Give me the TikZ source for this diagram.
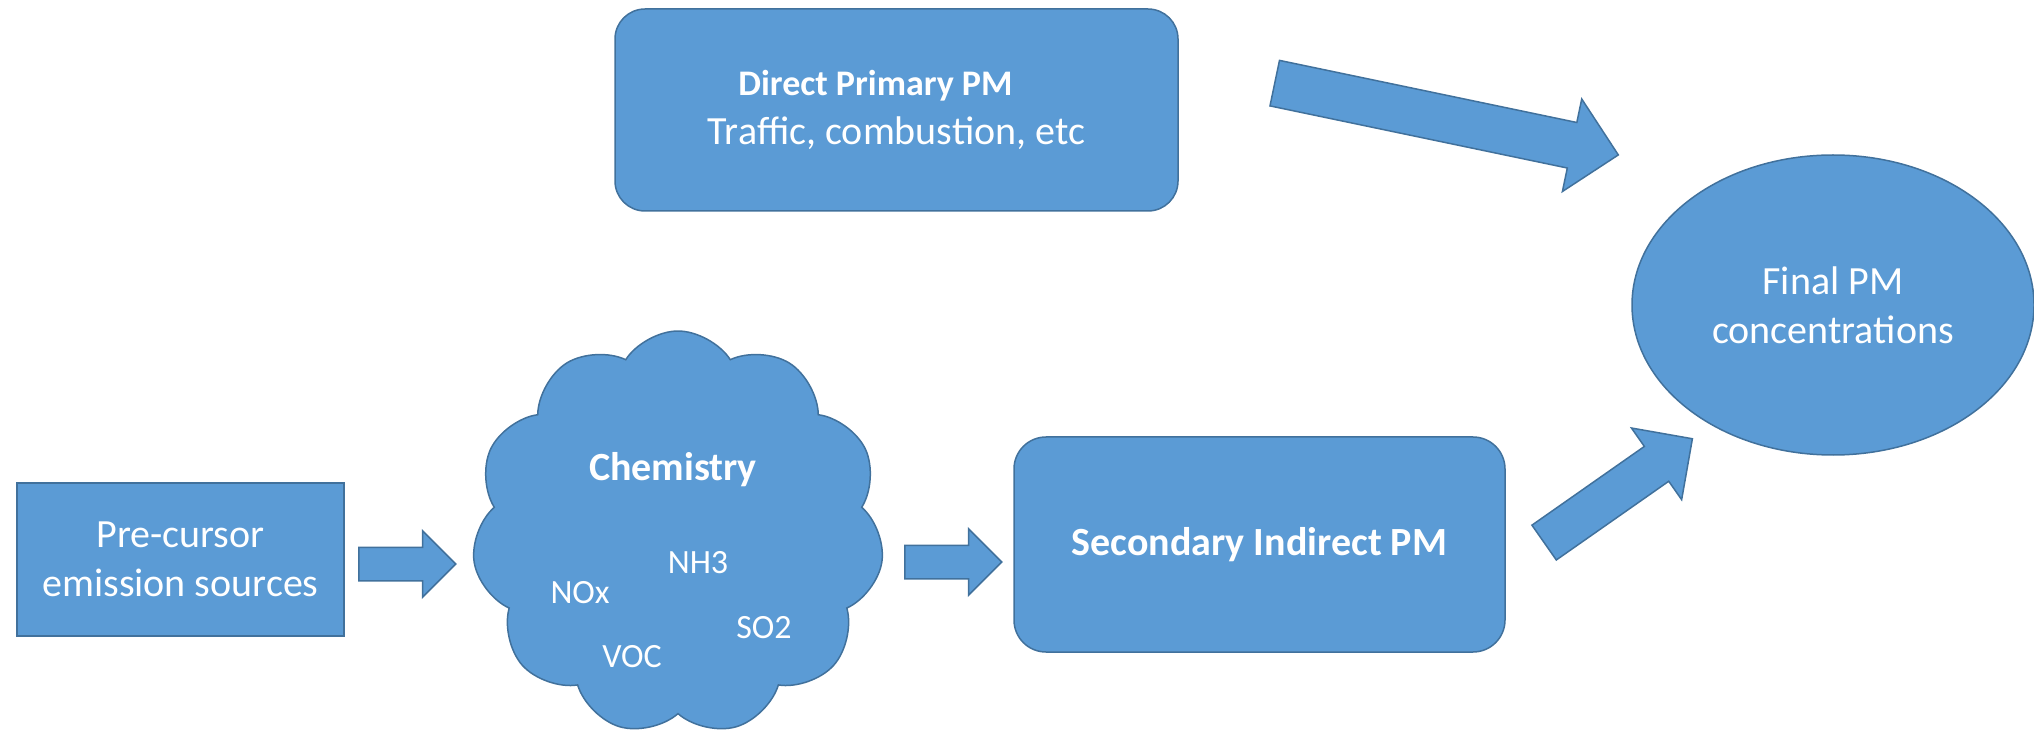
\documentclass[tikz,border=0pt]{standalone}
\usepackage{fontspec}
\setmainfont{Carlito}
\usetikzlibrary{shapes.geometric,shapes.symbols,shapes.arrows}
\definecolor{pmblue}{HTML}{5B9BD5}
\definecolor{pmedge}{HTML}{41719C}
\tikzset{
  pm/.style={draw=pmedge, fill=pmblue, line width=0.75pt, text=white, align=center, inner sep=0pt},
  pmfont/.style={font=\fontsize{20}{24.4}\selectfont},
  gas/.style={text=white, font=\fontsize{17}{20}\selectfont},
  fatarrow/.style={single arrow, draw=pmedge, fill=pmblue, line width=0.75pt, inner xsep=0pt, single arrow head indent=0pt, anchor=tail},
}
\begin{document}
\begin{tikzpicture}[x=0.5pt, y=-0.5pt]
 \useasboundingbox (0,0) rectangle (2034,737);
 % precursors, chemistry and secondary PM along the bottom
 \node[pm, pmfont, minimum width=163.5pt, minimum height=76.5pt] (src) at (180.5,559.5) {Pre-cursor\\emission sources};
 \node[pm, cloud, cloud puffs=11, cloud puff arc=115, aspect=1, minimum width=206pt, minimum height=202pt] (chem) at (678,533) {};
 \node[gas, font=\fontsize{20}{24.4}\selectfont\bfseries] (chemlbl) at (673,470) {Chemistry};
 \node[gas] (nh3) at (698,563) {NH3};
 \node[gas] (nox) at (580,593) {NOx};
 \node[gas] (so2) at (764,628) {SO2};
 \node[gas] (voc) at (632,657) {VOC};
 \node[pm, font=\fontsize{20}{24.4}\selectfont\bfseries, rounded corners=16pt, minimum width=245.5pt, minimum height=107.5pt] (sec) at (1259.5,544.5) {Secondary Indirect PM};
 % direct emissions and the final result
 \node[pm, pmfont, rounded corners=15pt, minimum width=281.5pt, minimum height=101pt] (prim) at (896.5,110) {{\fontsize{18}{24.4}\selectfont\bfseries Direct Primary PM\hspace*{21pt}}\\Traffic, combustion, etc};
 \node[pm, pmfont, ellipse, minimum width=201pt, minimum height=150pt] (final) at (1833,305) {Final PM\\concentrations};
 % block arrows, placed by their tails
 \node[fatarrow, minimum height=48.5pt, inner ysep=8pt, single arrow head extend=8.25pt, minimum width=32.5pt] (a1) at (358,564) {};
 \node[fatarrow, minimum height=48.5pt, inner ysep=8pt, single arrow head extend=8.25pt, minimum width=32.5pt] (a2) at (904,562) {};
 \node[fatarrow, minimum height=175.5pt, inner ysep=11.25pt, single arrow head extend=12pt, minimum width=46.5pt, rotate=-11.8] (a3) at (1274,83) {};
 \node[fatarrow, minimum height=90.5pt, inner ysep=10.25pt, single arrow head extend=11.25pt, minimum width=43pt, rotate=35] (a4) at (1543.5,543) {};
\end{tikzpicture}
\end{document}
